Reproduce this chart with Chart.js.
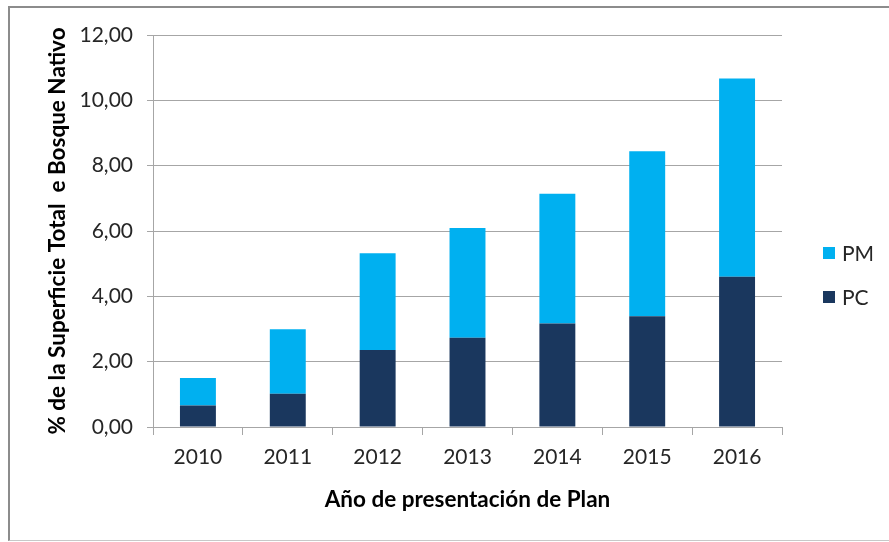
<!DOCTYPE html>
<html>
<head>
<meta charset="utf-8">
<script src="https://cdn.jsdelivr.net/npm/chart.js@4"></script>
<style>
  html, body { margin: 0; padding: 0; background: #fff; }
  #wrap { position: relative; width: 889px; height: 542px; }
  #frame { position: absolute; left: 8px; top: 6px; right: -4px; bottom: 1px;
           border-left: 2px solid #8c8c8c; border-top: 2px solid #8c8c8c; border-bottom: 1px solid #c8c8c8; }
  canvas { position: absolute; left: 0; top: 0; }
</style>
</head>
<body>
<div id="wrap">
  <div id="frame"></div>
  <canvas id="chart" width="889" height="542"></canvas>
</div>
<script>
// data
var years = ['2010', '2011', '2012', '2013', '2014', '2015', '2016'];
var pcValues = [0.66, 1.02, 2.36, 2.73, 3.17, 3.39, 4.60];
var pmValues = [0.84, 1.97, 2.96, 3.36, 3.97, 5.05, 6.07];
var yTicks = [0, 2, 4, 6, 8, 10, 12];

var FONT = 'Lato, "Open Sans", sans-serif';
var textColor = '#262626';
var gridColor = '#a6a6a6';

// legend drawn by hand on the right, PM above PC
var sideLegend = {
    id: 'sideLegend',
    afterDraw: function(chart) {
        var ctx = chart.ctx;
        var items = chart.data.datasets.slice().reverse();
        ctx.save();
        ctx.font = '21px ' + FONT;
        ctx.textBaseline = 'middle';
        for (var i = 0; i < items.length; i++) {
            var y = 253 + i * 44;
            ctx.fillStyle = items[i].backgroundColor;
            ctx.fillRect(823, y - 6, 12, 12);
            ctx.fillStyle = textColor;
            ctx.fillText(items[i].label, 842, y + 1);
        }
        ctx.restore();
    }
};

new Chart(document.getElementById('chart').getContext('2d'), {
    type: 'bar',
    data: {
        labels: years,
        datasets: [{
            label: 'PC',
            data: pcValues,
            backgroundColor: '#1a375e',
            barPercentage: 0.4,
            categoryPercentage: 1
        }, {
            label: 'PM',
            data: pmValues,
            backgroundColor: '#00b0f0',
            barPercentage: 0.4,
            categoryPercentage: 1
        }]
    },
    options: {
        responsive: false,
        animation: false,
        layout: {
            padding: { left: 0, right: 107, top: 35, bottom: 0 }
        },
        plugins: {
            legend: { display: false },
            tooltip: { enabled: false }
        },
        scales: {
            x: {
                stacked: true,
                grid: {
                    offset: true,
                    drawOnChartArea: false,
                    drawTicks: true,
                    tickLength: 8,
                    color: gridColor
                },
                border: { color: gridColor },
                ticks: {
                    color: textColor,
                    font: { family: FONT, size: 21 },
                    padding: 10
                },
                title: {
                    display: true,
                    text: 'Año de presentación de Plan',
                    color: '#000',
                    font: { family: FONT, size: 22.5, weight: 'bold' },
                    padding: { top: 6, bottom: 29 }
                },
                afterFit: function(scale) { scale.height = 542 - 427; }
            },
            y: {
                stacked: true,
                min: 0,
                max: 12,
                afterBuildTicks: function(scale) {
                    scale.ticks = yTicks.map(function(v) { return { value: v }; });
                },
                grid: {
                    color: gridColor,
                    tickLength: 6
                },
                border: { color: gridColor },
                ticks: {
                    color: textColor,
                    font: { family: FONT, size: 21 },
                    padding: 14,
                    callback: function(v) { return v.toFixed(2).replace('.', ','); }
                },
                title: {
                    display: true,
                    text: '% de la Superficie Total  e Bosque Nativo',
                    color: '#000',
                    font: { family: FONT, size: 22.5, weight: 'bold' },
                    padding: { top: 44, bottom: 0 }
                },
                afterFit: function(scale) { scale.width = 153; }
            }
        }
    },
    plugins: [sideLegend]
});
</script>
</body>
</html>
